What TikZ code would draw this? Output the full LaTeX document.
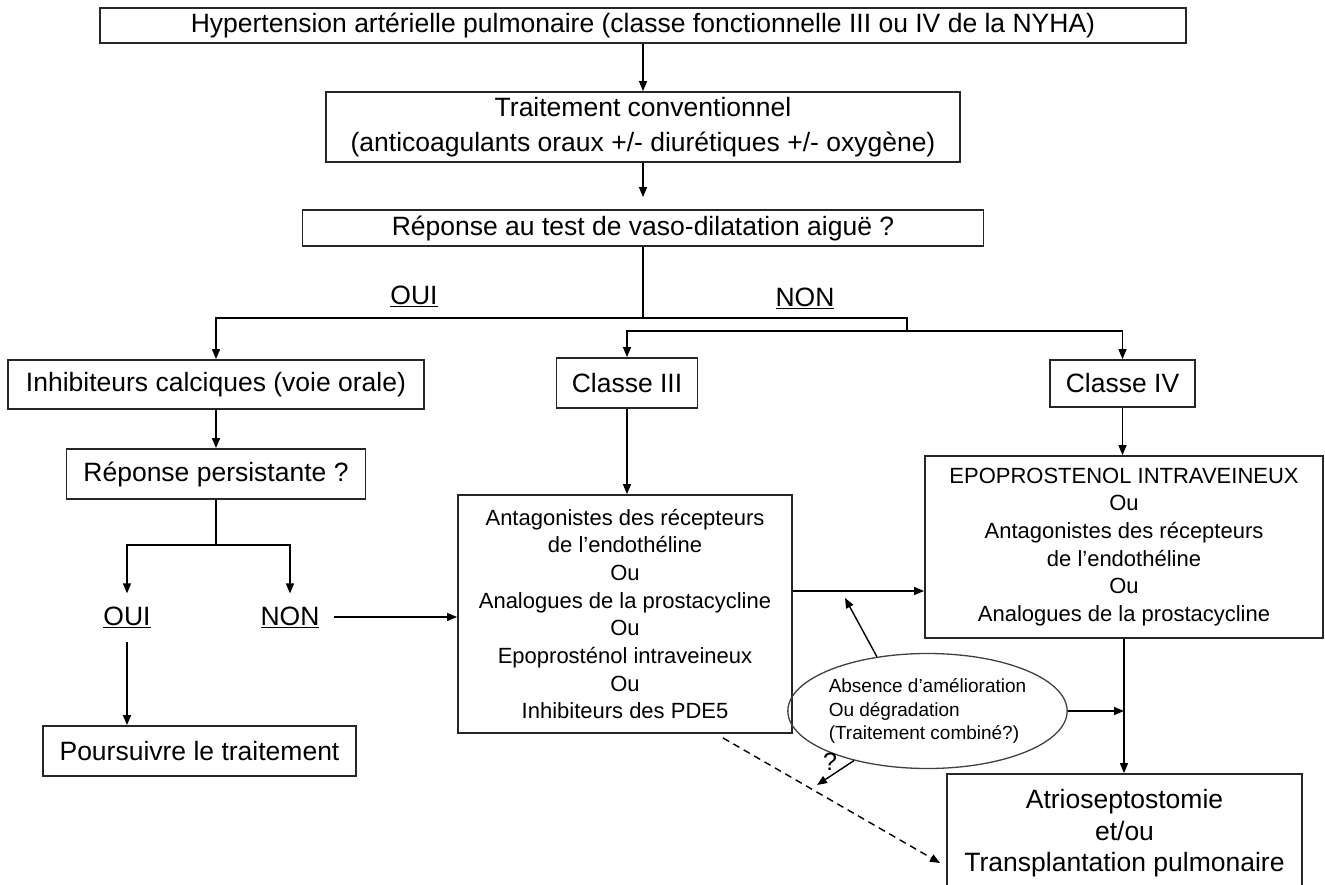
\documentclass[tikz,border=0pt]{standalone}
\usepackage{fontspec}
\setmainfont{Liberation Sans}
\usetikzlibrary{shapes.geometric,arrows.meta}
\tikzset{
  box/.style={draw=black!85, line width=1.8pt, inner sep=0pt, align=center, font=\fontsize{26.5}{35}\selectfont},
  smalltxt/.style={font=\fontsize{22}{27.7}\selectfont},
  lbl/.style={inner sep=0pt, font=\fontsize{26.5}{32}\selectfont},
  arr/.style={-{Triangle[length=10pt,width=8pt]}, line width=1.4pt},
  ln/.style={line width=1.4pt},
  dsh/.style={arr, dashed, dash pattern=on 7pt off 5pt}
}
\begin{document}
\begin{tikzpicture}[x=1pt, y=-1pt]
            \fill[white] (0,0) rectangle (1325,885);
            \useasboundingbox (0,0) rectangle (1325,885);
            \node [box, minimum width=1086pt, minimum height=35pt] (htap) at (643,25.5) {Hypertension artérielle pulmonaire (classe fonctionnelle III ou IV de la NYHA)};
            \node [box, minimum width=634pt, minimum height=70pt] (conv) at (643,127) {Traitement conventionnel\\(anticoagulants oraux +/- diurétiques +/- oxygène)};
            \node [box, minimum width=681pt, minimum height=36pt] (vaso) at (643,228) {Réponse au test de vaso-dilatation aiguë ?};
            \node [lbl] (oui1) at (414,296) {\underline{OUI}};
            \node [lbl] (non1) at (805,298) {\underline{NON}};
            \node [box, minimum width=416pt, minimum height=49pt] (calc) at (216,384.5) {Inhibiteurs calciques (voie orale)};
            \node [box, minimum width=141pt, minimum height=50pt] (c3) at (627,383) {Classe III};
            \node [box, minimum width=145pt, minimum height=47pt] (c4) at (1122.5,383.5) {Classe IV};
            \node [box, minimum width=299pt, minimum height=50pt] (persist) at (216,474) {Réponse persistante ?};
            \node [lbl] (oui2) at (127,617) {\underline{OUI}};
            \node [lbl] (non2) at (290,617) {\underline{NON}};
            \node [box, minimum width=313pt, minimum height=50pt] (pours) at (199.5,751) {Poursuivre le traitement};
            \node [box, smalltxt, minimum width=334pt, minimum height=238pt] (trt3) at (625,614) {Antagonistes des récepteurs\\de l'endothéline\\Ou\\Analogues de la prostacycline\\Ou\\Epoprosténol intraveineux\\Ou\\Inhibiteurs des PDE5};
            \node [box, smalltxt, minimum width=398pt, minimum height=182pt] (epo) at (1124,547) {EPOPROSTENOL INTRAVEINEUX\\Ou\\Antagonistes des récepteurs\\de l'endothéline\\Ou\\Analogues de la prostacycline};
            \node [ellipse, draw=black!75, line width=1.3pt, minimum width=247pt, minimum height=115pt, inner sep=0pt, align=left, font=\fontsize{19}{23.5}\selectfont] (ell) at (927.5,711) {Absence d'amélioration\\Ou dégradation\\(Traitement combiné?)};
            \node [box, font=\fontsize{26.5}{31.5}\selectfont, minimum width=355pt, minimum height=119pt] (atrio) at (1124.5,833.5) {Atrioseptostomie\\et/ou\\Transplantation pulmonaire};
            \node [inner sep=0pt, font=\fontsize{25}{25}\selectfont] (qm) at (830,762) {?};
            \coordinate (split) at (643,318);
            \coordinate (nonbr) at (907,331);
            \coordinate (pbr) at (216,545);
            \coordinate (esc) at (0,591);
            \coordinate (back) at (845,598);
            \coordinate (qtip) at (817,785);
            \coordinate (dtip) at (940,863);
            \draw [arr] (htap) -- (conv);
            \draw [arr, shorten >=12pt] (conv) -- (vaso);
            \draw [arr] (vaso.south) -- (split) -| (calc.north);
            \draw [ln] (split) -| (nonbr);
            \draw [arr] (nonbr) -| (c3.north);
            \draw [arr] (nonbr) -| (c4.north);
            \draw [arr] (calc) -- (persist);
            \draw [ln] (persist.south) -- (pbr);
            \draw [arr] (pbr) -| ([yshift=13pt]oui2.north);
            \draw [arr] (pbr) -| ([yshift=13pt]non2.north);
            \draw [arr] ([yshift=-14pt]oui2.south) -- (oui2.south |- pours.north);
            \draw [arr] ([xshift=14pt]non2.east) -- (trt3.west |- non2.east);
            \draw [arr] (c3.south) -- (c3.south |- trt3.north);
            \draw [arr] (c4.south) -- (c4.south |- epo.north);
            \draw [arr] (trt3.east |- esc) -- (epo.west |- esc);
            \draw [arr] (ell.133) -- (back);
            \draw [arr] (ell.214) -- (qtip);
            \draw [arr] (ell.east) -- (ell.east -| epo.south);
            \draw [arr] (epo.south) -- (epo.south |- atrio.north);
            \draw [dsh] ([xshift=-70pt,yshift=-4pt]trt3.south east) -- (dtip);
        \end{tikzpicture}
\end{document}
